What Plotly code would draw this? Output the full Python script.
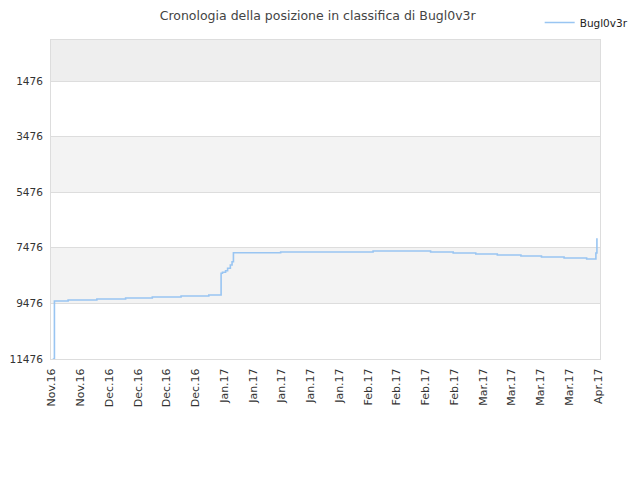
import plotly.graph_objects as go

# rank history (lower = better)
dates = [
    "2016-11-21 06:00", "2016-11-21 16:00", "2016-11-25 00:00", "2016-12-02 00:00",
    "2016-12-09 00:00", "2016-12-15 12:00", "2016-12-22 12:00", "2016-12-29 06:00",
    "2017-01-01 06:00", "2017-01-01 14:00", "2017-01-02 08:00", "2017-01-02 20:00",
    "2017-01-03 12:00", "2017-01-03 22:00", "2017-01-04 06:00", "2017-01-15 18:00",
    "2017-02-07 06:00", "2017-02-21 06:00", "2017-02-26 18:00", "2017-03-04 06:00",
    "2017-03-09 12:00", "2017-03-15 06:00", "2017-03-20 06:00", "2017-03-25 18:00",
    "2017-03-31 06:00", "2017-04-02 12:00", "2017-04-02 18:00",
]
ranks = [
    11476, 9389, 9353, 9317,
    9281, 9245, 9209, 9173,
    8393, 8357, 8300, 8213,
    8094, 7976, 7652, 7627,
    7591, 7627, 7663, 7699,
    7735, 7771, 7807, 7843,
    7879, 7663, 7134,
]

ytick_vals = [1476, 3476, 5476, 7476, 9476, 11476]
ytick_text = [str(v) for v in ytick_vals]
bands = [(0, 1476, "#eeeeee"), (3476, 5476, "#f3f3f3"), (7476, 9476, "#f3f3f3")]

fig = go.Figure()
fig.add_trace(go.Scatter(
    x=dates, y=ranks, mode="lines", name="Bugl0v3r",
    line=dict(color="#99c5f2", width=1.6, shape="hv"),
))

for y0, y1, col in bands:
    fig.add_shape(type="rect", xref="paper", yref="y", x0=0, x1=1, y0=y0, y1=y1,
                  fillcolor=col, line_width=0, layer="below")

# page has an 8px body margin, so the figure is a bit smaller than the window
fig.update_layout(
    width=632, height=472,
    margin=dict(l=43, r=40, t=32, b=121, autoexpand=False),
    paper_bgcolor="white", plot_bgcolor="white",
    font=dict(family="DejaVu Sans", size=11, color="#333333"),
    title=dict(text="Cronologia della posizione in classifica di Bugl0v3r",
               x=0.49, xref="container", y=1, yref="container", yanchor="top",
               pad=dict(t=3), font=dict(size=12.5, color="#444444")),
    showlegend=True,
    legend=dict(xref="container", yref="container", x=0.99, xanchor="right",
                y=1.0, yanchor="top", font=dict(size=10.5, color="#222222"),
                bgcolor="rgba(0,0,0,0)", itemwidth=30),
)
fig.update_xaxes(
    range=["2016-11-20 20:00", "2017-04-03 12:00"],
    tick0="2016-11-21", dtick=7 * 24 * 3600 * 1000, tickformat="%b.%y",
    tickangle=-90, showgrid=False, showline=True, linecolor="#dddddd",
    mirror=True, ticks="", ticklabelstandoff=4,
    tickfont=dict(size=11, color="#333333"),
)
fig.update_yaxes(
    range=[11476, 0], tickvals=ytick_vals, ticktext=ytick_text,
    showgrid=True, gridcolor="#dddddd",
    showline=True, linecolor="#dddddd", mirror=True, ticks="", zeroline=False,
    ticklabelstandoff=5, tickfont=dict(size=10.5, color="#333333"),
)

fig.write_html("out.html")
